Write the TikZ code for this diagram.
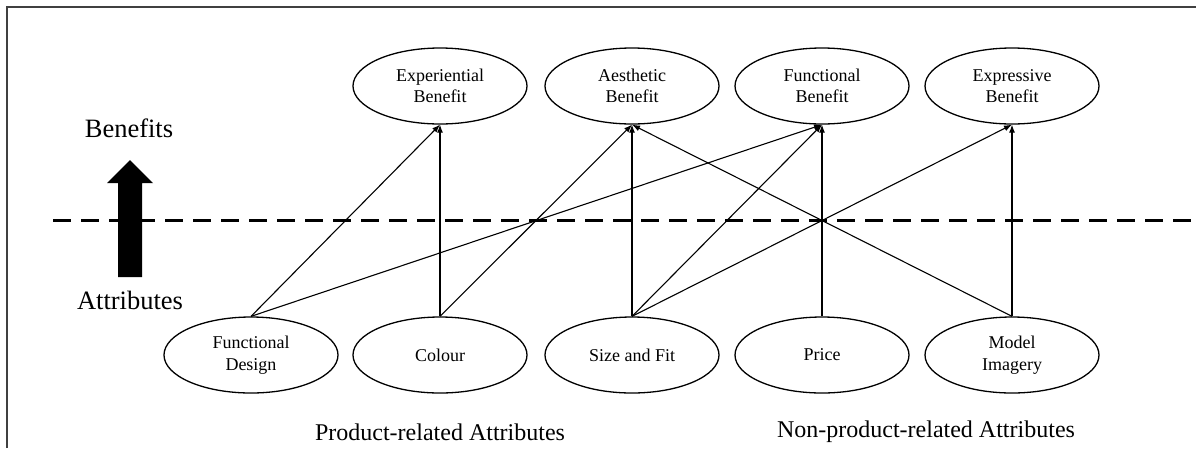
\documentclass[tikz,border=0pt]{standalone}
\usepackage{fontspec}
\setmainfont{Liberation Serif}
\usetikzlibrary{shapes.geometric,arrows.meta}
\begin{document}
\begin{tikzpicture}[x=1pt,y=-1pt,
  oval/.style={draw,ellipse,line width=1.3pt,minimum width=174pt,minimum height=76pt,
    inner sep=0pt,align=center,font=\fontsize{18}{21.5}\selectfont},
  link/.style={line width=1.1pt,-{Latex[length=8pt,width=6pt]}},
  divider/.style={line width=3pt,dash pattern=on 18pt off 10pt},
  heading/.style={font=\fontsize{26.5}{30}\selectfont},
  group/.style={font=\fontsize{24}{28}\selectfont}]
\useasboundingbox (0,0) rectangle (1196,448);
% frame edges
\draw[line width=1.2pt,black!75] (7,448) -- (7,7) -- (1196,7);

% benefits
\node[oval] (exp) at (440,86) {Experiential\\Benefit};
\node[oval] (aes) at (632,86) {Aesthetic\\Benefit};
\node[oval] (fun) at (822,86) {Functional\\Benefit};
\node[oval] (xpr) at (1012,86) {Expressive\\Benefit};

% attributes
\node[oval] (fd) at (251,355) {Functional\\Design};
\node[oval] (col) at (440,355) {Colour};
\node[oval] (sf) at (632,355) {Size and Fit};
\node[oval] (pr) at (822,355) {Price};
\node[oval] (mi) at (1012,355) {Model\\Imagery};

% boundary between attributes and benefits
\coordinate (dl) at (53,220);
\coordinate (dr) at (1196,220);
\draw[divider] (dl) -- (dr);

% direction arrow with labels
\node[heading] (ben) at (129,128) {Benefits};
\node[heading] (att) at (130,300) {Attributes};
\fill (118,277) -- (118,183) -- (107,183) -- (130,160) -- (153,183) -- (142,183) -- (142,277) -- cycle;

% links from attributes to benefits
\draw[link] (fd.north) -- (exp.south);
\draw[link] (fd.north) -- (fun.south);
\draw[link] (col.north) -- (exp.south);
\draw[link] (col.north) -- (aes.south);
\draw[link] (sf.north) -- (aes.south);
\draw[link] (sf.north) -- (fun.south);
\draw[link] (sf.north) -- (xpr.south);
\draw[link] (pr.north) -- (fun.south);
\draw[link] (mi.north) -- (xpr.south);
\draw[link] (mi.north) -- (aes.south);

% group captions
\node[group] (prod) at (440,432) {Product-related Attributes};
\node[group] (nonprod) at (926,432) {Non-product-related Attributes};
\end{tikzpicture}
\end{document}
